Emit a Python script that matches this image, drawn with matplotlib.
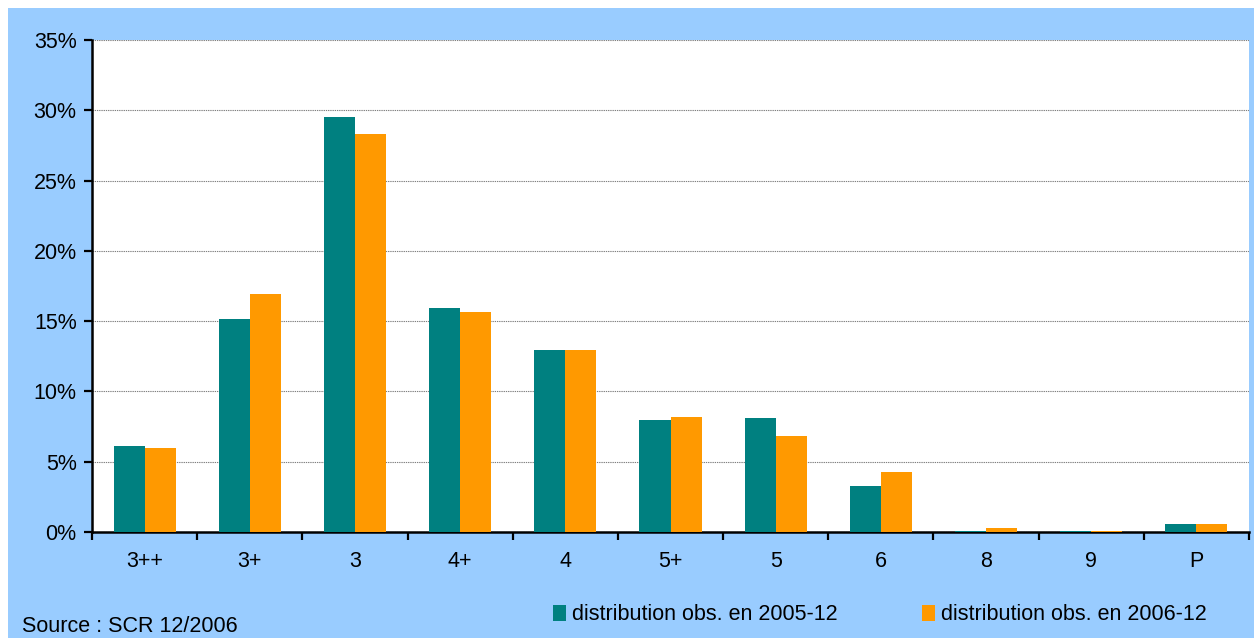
import matplotlib.pyplot as plt
import numpy as np
from matplotlib.patches import Rectangle, Patch
from matplotlib.ticker import FixedLocator, PercentFormatter

categories = ["3++", "3+", "3", "4+", "4", "5+", "5", "6", "8", "9", "P"]
obs_2005 = [6.1, 15.15, 29.5, 15.9, 12.95, 7.97, 8.1, 3.27, 0.08, 0.08, 0.6]
obs_2006 = [6.0, 16.9, 28.3, 15.65, 12.95, 8.2, 6.8, 4.27, 0.25, 0.06, 0.6]
series_labels = ["distribution obs. en 2005-12", "distribution obs. en 2006-12"]

TEAL = "#008080"
ORANGE = "#FF9900"
BLUE_BG = "#99CCFF"
FS = 15.5

plt.rcParams["font.family"] = ["Liberation Sans", "DejaVu Sans"]

fig = plt.figure(figsize=(12.54, 6.38), dpi=100, facecolor="white")
W, H = 1254, 638
fig.patches.append(Rectangle((8 / W, 0), 1 - 8 / W, 1 - 8 / H, transform=fig.transFigure,
                             facecolor=BLUE_BG, edgecolor="none", zorder=-10))

ax = fig.add_axes([92 / W, (H - 532) / H, (1249 - 92) / W, (532 - 40) / H])
ax.set_facecolor("white")

x = np.arange(len(categories))
bw = 0.295
ax.bar(x - bw / 2, obs_2005, bw, color=TEAL, zorder=3, label=series_labels[0])
ax.bar(x + bw / 2, obs_2006, bw, color=ORANGE, zorder=3, label=series_labels[1])

ax.set_xlim(-0.5, len(categories) - 0.5)
ax.set_ylim(0, 35)
ax.yaxis.set_major_locator(FixedLocator(np.arange(0, 36, 5)))
ax.yaxis.set_major_formatter(PercentFormatter(decimals=0))
ax.grid(axis="y", color="#808080", linestyle=(0, (1.2, 0.8)), linewidth=0.8, zorder=1)

ax.set_xticks(np.arange(-0.5, len(categories), 1))
ax.set_xticklabels([])
ax.set_xticks(x, minor=True)
ax.set_xticklabels(categories, minor=True)
ax.tick_params(axis="x", which="major", direction="out", length=6, width=1.6, color="black")
ax.tick_params(axis="x", which="minor", length=0, pad=14, labelsize=FS)
ax.tick_params(axis="y", direction="out", length=6, width=1.6, labelsize=FS, pad=5)

for side in ("top", "right"):
    ax.spines[side].set_visible(False)
for side in ("left", "bottom"):
    ax.spines[side].set_linewidth(1.8)
    ax.spines[side].set_color("black")

handles = [Patch(facecolor=TEAL, edgecolor="none"), Patch(facecolor=ORANGE, edgecolor="none")]
fig.legend(handles, series_labels, loc="center left", bbox_to_anchor=(553 / W, 1 - 615 / H),
           ncol=2, frameon=False, fontsize=FS, handlelength=0.6, handleheight=0.75,
           handletextpad=0.3, columnspacing=3.9, borderpad=0, borderaxespad=0)

fig.text(22 / W, 1 - 627 / H, "Source : SCR 12/2006", fontsize=FS, va="center", ha="left")

fig.savefig("out.png", dpi=100, facecolor=fig.get_facecolor())
